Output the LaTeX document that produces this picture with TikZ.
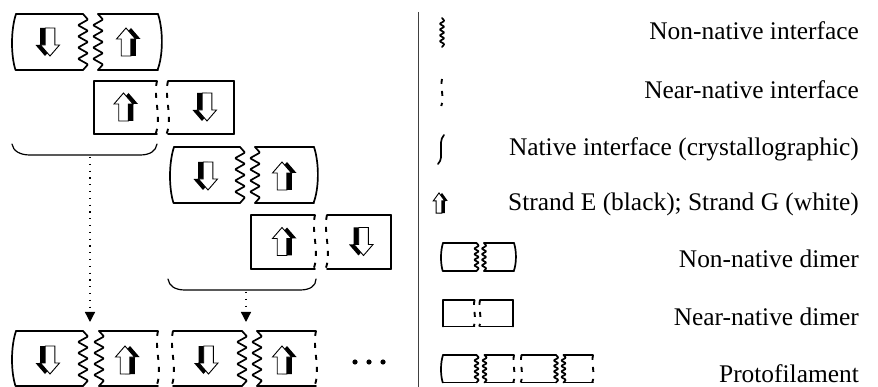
\documentclass[tikz,border=0pt]{standalone}
\usepackage{fontspec}
\setmainfont{Liberation Serif}
\usetikzlibrary{arrows.meta}

\tikzset{
  boxline/.style={line width=1.7pt, line cap=round, line join=round},
  zigline/.style={line width=1.7pt, line cap=round, line join=round, rounded corners=0.8pt},
  nearline/.style={line width=1.9pt, dash pattern=on 5pt off 7pt},
  bracket/.style={line width=1.2pt, line cap=round},
  dotlink/.style={line width=1.3pt, dash pattern=on 1.3pt off 5.5pt,
    -{Triangle[width=10pt,length=10pt]}},
  divider/.style={line width=1pt, draw=black!75},
  dotmark/.style={circle, fill=black, inner sep=0pt, minimum size=5.2pt},
  legendtext/.style={anchor=base east, inner sep=0pt, font=\fontsize{25.4}{30}\selectfont},
  strandarrow/.pic={
    % shaded side of the strand arrow
    \fill[black] (5,-14) -- (14.5,-3) -- (9.8,-3) -- (9.8,14) -- (0.2,14) -- (0.2,-3) -- (-4.5,-3) -- cycle;
    % white face
    \filldraw[fill=white, line width=0.9pt, line join=miter]
      (0,-14) -- (9.5,-3) -- (4.8,-3) -- (4.8,14) -- (-4.8,14) -- (-4.8,-3) -- (-9.5,-3) -- cycle;
  }
}

% vertical edges of a monomer: {x}{top y}{bottom y}
\newcommand\edgestraight[3]{\draw[boxline] (#1,#2) -- (#1,#3);}
\newcommand\edgenatL[3]{\draw[boxline] (#1,#2) .. controls ({#1-5.5},{#2+0.3*(#3-#2)}) and ({#1-5},{#2+0.75*(#3-#2)}) .. ({#1-0.5},#3);}
\newcommand\edgenatR[3]{\draw[boxline] (#1,#2) .. controls ({#1+5.5},{#2+0.3*(#3-#2)}) and ({#1+5},{#2+0.75*(#3-#2)}) .. ({#1-0.5},#3);}
\newcommand\edgezig[3]{\draw[zigline] (#1,#2) \foreach \i in {1,...,9}{ -- ({#1+5*(2*mod(\i,2)-1)},{#2+\i*(#3-#2)/10}) } -- (#1,#3);}
\newcommand\edgenear[3]{\draw[nearline] (#1,#2) .. controls ({#1-4},{#2+0.3*(#3-#2)}) and ({#1+5},{#2+0.7*(#3-#2)}) .. ({#1-1.5},#3);}

% monomer: {left x}{right x}{top y}{bottom y}{left edge}{right edge}
\newcommand\mono[6]{%
  \draw[boxline] (#1,#3) -- (#2,#3);
  \draw[boxline] (#1,#4) -- (#2,#4);
  \csname edge#5\endcsname{#1}{#3}{#4}%
  \csname edge#6\endcsname{#2}{#3}{#4}%
}

% reusable assemblies
\newcommand\nonnativedimer{%
  \mono{16}{83}{14}{70}{natL}{zig}
  \mono{98}{158}{14}{70}{zig}{natR}}
\newcommand\nearnativedimer{%
  \mono{94}{157}{81}{134}{straight}{near}
  \mono{168}{234}{81}{134}{near}{straight}}
\newcommand\filament{%
  \mono{16}{83}{331}{386}{natL}{zig}
  \mono{99}{158}{331}{386}{zig}{near}
  \mono{173}{242}{331}{386}{near}{zig}
  \mono{257}{316}{331}{386}{zig}{near}}

\begin{document}
\begin{tikzpicture}[x=1pt, y=-1pt]
\useasboundingbox (0,0) rectangle (878,387);

% ---- assembly scheme ----
\nonnativedimer
\pic[rotate=180] at (50,42) {strandarrow};
\pic at (126,42) {strandarrow};

\nearnativedimer
\pic at (123.5,107) {strandarrow};
\pic[rotate=180] at (207,107) {strandarrow};

\mono{174}{240}{147}{203}{natL}{zig}
\mono{255}{314}{147}{203}{zig}{natR}
\pic[rotate=180] at (208,176) {strandarrow};
\pic at (282,176) {strandarrow};

\mono{251}{315}{215}{269}{straight}{near}
\mono{327}{391}{215}{269}{near}{straight}
\pic at (282,241.5) {strandarrow};
\pic[rotate=180] at (363.5,241.5) {strandarrow};

% braces grouping the dimer pairs
\draw[bracket] (12,144) .. controls (13,151) and (20,155) .. (30,155) -- (140,155) .. controls (150,155) and (156,151) .. (157,144);
\draw[bracket] (168,279) .. controls (169,286) and (175,290) .. (185,290) -- (300,290) .. controls (310,290) and (316,286) .. (316,279);

\coordinate (braceA) at (90,157);
\coordinate (slotA) at (90,322);
\coordinate (braceB) at (246,292);
\coordinate (slotB) at (246,322);
\draw[dotlink] (braceA) -- (slotA);
\draw[dotlink] (braceB) -- (slotB);

% resulting protofilament
\filament
\pic[rotate=180] at (50,360) {strandarrow};
\pic at (125,360) {strandarrow};
\pic[rotate=180] at (208.5,360) {strandarrow};
\pic at (282,360) {strandarrow};
\node[dotmark] (dotA) at (355,362) {};
\node[dotmark] (dotB) at (369,362) {};
\node[dotmark] (dotC) at (383,362) {};

% ---- legend ----
\draw[divider] (418,12) -- (418,387);

\begin{scope}[shift={(442,18)}, scale=0.5]
  \edgezig{0}{0}{58}
\end{scope}
\begin{scope}[shift={(442,79)}, scale=0.5]
  \edgenear{0}{0}{54}
\end{scope}
\draw[boxline] (444,135) .. controls (440,139) and (441,146) .. (441,150) .. controls (441,155) and (442,160) .. (438,164);
\pic[xscale=0.6, yscale=0.72] at (439,203) {strandarrow};
\begin{scope}[shift={(435,236)}, scale=0.5]
  \nonnativedimer
\end{scope}
\begin{scope}[shift={(396,259.5)}, scale=0.5]
  \nearnativedimer
\end{scope}
\begin{scope}[shift={(435,189.5)}, scale=0.5]
  \filament
\end{scope}

\node[legendtext] (labA) at (859,40) {Non-native interface};
\node[legendtext] (labB) at (859,99) {Near-native interface};
\node[legendtext] (labC) at (859,156) {Native interface (crystallographic)};
\node[legendtext] (labD) at (859,211) {Strand E (black); Strand G (white)};
\node[legendtext] (labE) at (859,268) {Non-native dimer};
\node[legendtext] (labF) at (859,325) {Near-native dimer};
\node[legendtext] (labG) at (859,382) {Protofilament};
\end{tikzpicture}
\end{document}
